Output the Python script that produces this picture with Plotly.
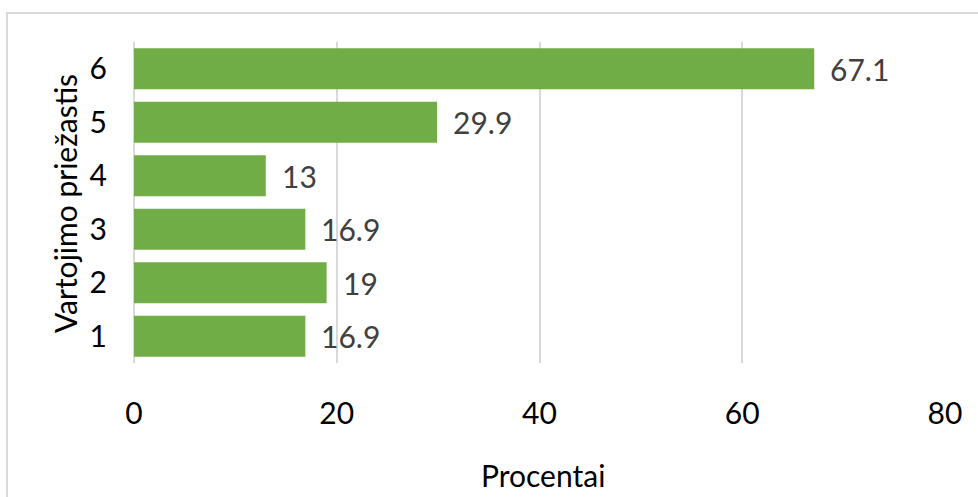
import plotly.graph_objects as go

# Survey results: share of respondents per usage reason
categories = ["1", "2", "3", "4", "5", "6"]
values = [16.9, 19, 16.9, 13, 29.9, 67.1]
x_ticks = [0, 20, 40, 60, 80]

W, H = 978, 497
L, R, T, B = 134, 33, 42, 134
pw, ph = W - L - R, H - T - B

FONT = "Lato"
FS = 30
GREEN = "#70AD47"
GRID = "#d9d9d9"

fig = go.Figure(
    go.Bar(
        x=values,
        y=categories,
        orientation="h",
        marker=dict(color=GREEN, line=dict(width=0)),
        hoverinfo="x+y",
    )
)

# value labels to the right of each bar (category axis uses index positions)
for i, v in enumerate(values):
    fig.add_annotation(
        x=v, y=i, xref="x", yref="y",
        text=f"{v:g}", showarrow=False,
        xanchor="left", yanchor="middle", xshift=14,
        font=dict(family=FONT, size=FS, color="#404040"),
    )

# axis titles
fig.add_annotation(
    x=(543 - L) / pw, y=(H - 475 - B) / ph, xref="paper", yref="paper",
    text="Procentai", showarrow=False,
    xanchor="center", yanchor="middle",
    font=dict(family=FONT, size=FS, color="#000000"),
)
fig.add_annotation(
    x=(65 - L) / pw, y=(H - B - 204) / ph, xref="paper", yref="paper",
    text="Vartojimo priežastis", showarrow=False, textangle=-90,
    xanchor="center", yanchor="middle",
    font=dict(family=FONT, size=FS, color="#000000"),
)

# chart-area frame
fig.add_shape(
    type="rect", xref="paper", yref="paper",
    x0=(7 - L) / pw, x1=(W + 20 - L) / pw,
    y0=(H - B - (H + 20)) / ph, y1=(H - B - 13) / ph,
    line=dict(color=GRID, width=2), fillcolor="rgba(0,0,0,0)", layer="below",
)

fig.update_layout(
    width=W, height=H,
    margin=dict(l=L, r=R, t=T, b=B, pad=0),
    paper_bgcolor="white", plot_bgcolor="white",
    bargap=0.23,
    showlegend=False,
    font=dict(family=FONT, size=FS, color="#000000"),
    xaxis=dict(
        range=[0, 80], tickvals=x_ticks, ticktext=[str(t) for t in x_ticks],
        showgrid=True, gridcolor=GRID, gridwidth=1.5,
        zeroline=True, zerolinecolor=GRID, zerolinewidth=1.5,
        showline=False, ticks="", ticklabelstandoff=30,
        tickfont=dict(family=FONT, size=FS, color="#000000"),
        fixedrange=True,
    ),
    yaxis=dict(
        categoryorder="array", categoryarray=categories,
        range=[-0.5, len(categories) - 0.5],
        showgrid=False, zeroline=False, showline=False, ticks="",
        ticklabelstandoff=26,
        tickfont=dict(family=FONT, size=FS, color="#000000"),
        fixedrange=True,
    ),
)

fig.write_html("out.html")
